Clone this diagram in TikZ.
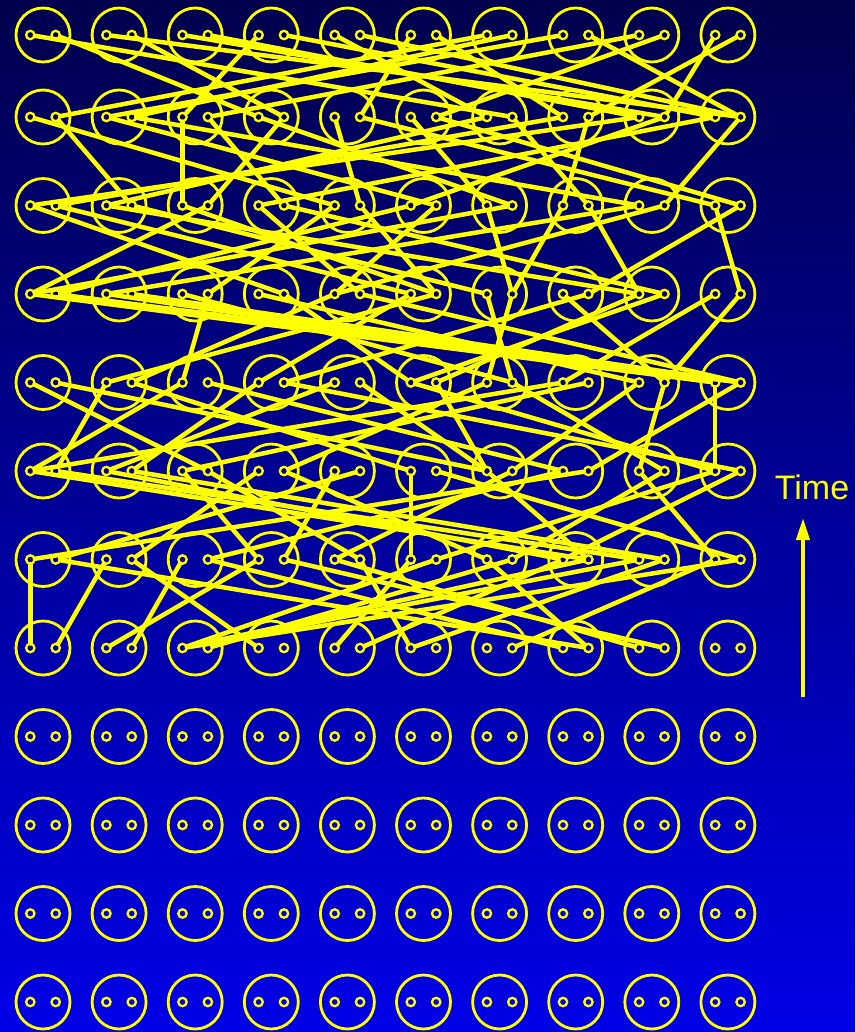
\documentclass[tikz,border=0pt]{standalone}
\usepackage{fontspec}
\setmainfont{Liberation Sans}
\usetikzlibrary{arrows.meta}
\definecolor{bgtop}{HTML}{00004D}
\definecolor{bgbot}{HTML}{0000E6}
\definecolor{yel}{HTML}{FFFF00}
\tikzset{
  bigc/.style={circle, draw=yel, line width=2.8pt, minimum size=54pt, inner sep=0pt},
  dotn/.style={circle, draw=none, minimum size=9pt, inner sep=0pt},
  dotring/.style={draw=yel, line width=2.3pt},
  link/.style={draw=yel, line width=4.5pt, line cap=round},
  timearrow/.style={draw=yel, fill=yel, line width=4pt, -{Triangle[length=22pt,width=13pt]}},
  timelabel/.style={text=yel, font=\fontsize{34}{40}\selectfont, inner sep=0pt}
}
\newcommand\linkband[2]{%
  \foreach \t [count=\u from 0] in {#2} {%
    \pgfmathtruncatemacro\rn{#1+1}%
    \draw[link] (D-#1-\u) -- (D-\rn-\t);
  }%
}
\begin{document}
\begin{tikzpicture}[x=1pt,y=-1pt]
\useasboundingbox (0,0) rectangle (855,1032);
\shade[top color=bgtop, bottom color=bgbot] (0,0) rectangle (855,1032);
% grid of circles and dot anchors
\foreach \r in {0,...,11} {
  \foreach \c in {0,...,9} {
    \pgfmathsetmacro\cx{43+76.1*\c}
    \pgfmathsetmacro\cy{\r==0 ? 35 : 117+88.5*(\r-1)}
    \pgfmathtruncatemacro\iL{2*\c}
    \pgfmathtruncatemacro\iR{2*\c+1}
    \node[bigc] (C-\r-\c) at (\cx,\cy) {};
    \node[dotn] (D-\r-\iL) at (\cx-12.7,\cy) {};
    \node[dotn] (D-\r-\iR) at (\cx+12.7,\cy) {};
  }
}
% connections between successive rows
\linkband{0}{13,6,19,7,17,16,4,18,12,19,9,14,1,3,2,19,5,11,17,15}
\linkband{1}{8,3,11,16,4,7,13,5,9,18,12,19,2,15,1,14,0,10,6,17}
\linkband{2}{7,10,16,12,11,0,9,17,5,11,1,8,13,0,13,16,2,8,19,15}
\linkband{3}{18,19,18,19,13,4,16,10,3,19,6,2,13,12,17,7,11,10,14,17}
\linkband{4}{5,12,1,10,0,14,3,19,2,12,18,12,7,17,0,4,13,16,18,15}
\linkband{5}{15,16,14,17,6,9,3,12,7,1,10,19,15,8,5,0,18,13,11,14}
\linkband{6}{0,15,1,6,3,14,2,17,16,10,8,4,15,5,9,4,4,10,13,4}
% visible dot rings
\foreach \r in {0,...,11} {
  \foreach \i in {0,...,19} {
    \draw[dotring] (D-\r-\i.center) circle (4.2pt);
  }
}
% time arrow and label
\node[timelabel] (time) at (812,487) {Time};
\coordinate (abot) at (803,697);
\coordinate (atop) at (803,518);
\draw[timearrow] (abot) -- (atop);
\end{tikzpicture}
\end{document}
